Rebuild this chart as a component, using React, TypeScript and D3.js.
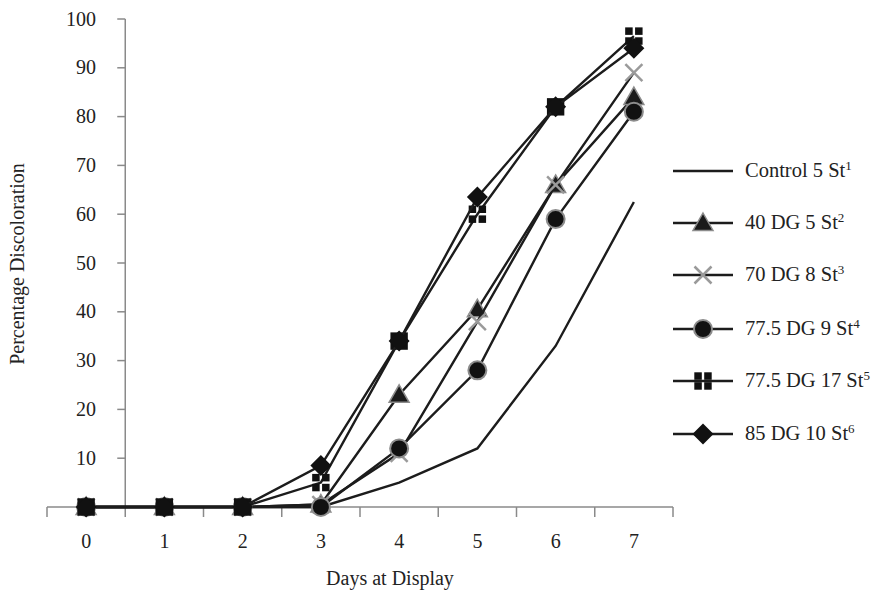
import React from "react";
import * as d3 from "d3";

const days = [0, 1, 2, 3, 4, 5, 6, 7];
const yTicks = [10, 20, 30, 40, 50, 60, 70, 80, 90, 100];

const control5 = [0, 0, 0, 0, 5, 12, 33, 62.5];
const dg40 = [0, 0, 0, 0.5, 23, 40.5, 66, 84];
const dg70 = [0, 0, 0, 0.5, 11, 38, 66, 89];
const dg775s9 = [0, 0, 0, 0, 12, 28, 59, 81];
const dg775s17 = [0, 0, 0, 5, 34, 60, 82, 96.5];
const dg85 = [0, 0, 0, 8.5, 34, 63.5, 82, 94];

type Kind = "none" | "triangle" | "x" | "circle" | "square" | "diamond";
const seriesNames = ["Control 5 St", "40 DG 5 St", "70 DG 8 St", "77.5 DG 9 St", "77.5 DG 17 St", "85 DG 10 St"];
const seriesSup = ["1", "2", "3", "4", "5", "6"];
const seriesValues = [control5, dg40, dg70, dg775s9, dg775s17, dg85];
const seriesKinds: Kind[] = ["none", "triangle", "x", "circle", "square", "diamond"];

const W = 871;
const H = 593;
const FONT = "'Liberation Serif', 'DejaVu Serif', serif";
const LINE = "#1c1c1c";
const AXIS = "#8a8a8a";

function Marker({ kind, cx, cy }: { kind: Kind; cx: number; cy: number }) {
  if (kind === "triangle") {
    const s = 10;
    return (
      <path
        d={`M${cx},${cy - s} L${cx + s},${cy + s * 0.75} L${cx - s},${cy + s * 0.75} Z`}
        fill="#1a1a1a"
        stroke="#8c8c8c"
        strokeWidth={1.5}
      />
    );
  }
  if (kind === "x") {
    const s = 8.5;
    return (
      <g stroke="#9a9a9a" strokeWidth={2.5}>
        <line x1={cx - s} y1={cy - s} x2={cx + s} y2={cy + s} />
        <line x1={cx - s} y1={cy + s} x2={cx + s} y2={cy - s} />
      </g>
    );
  }
  if (kind === "circle") {
    return <circle cx={cx} cy={cy} r={9} fill="#111" stroke="#8c8c8c" strokeWidth={2} />;
  }
  if (kind === "square") {
    const q = 7.5;
    const g = 1.2;
    return (
      <g fill="#111">
        <rect x={cx - q - g} y={cy - q - g} width={q} height={q} />
        <rect x={cx + g} y={cy - q - g} width={q} height={q} />
        <rect x={cx - q - g} y={cy + g} width={q} height={q} />
        <rect x={cx + g} y={cy + g} width={q} height={q} />
      </g>
    );
  }
  if (kind === "diamond") {
    const s = 10.5;
    return <path d={`M${cx},${cy - s} L${cx + s},${cy} L${cx},${cy + s} L${cx - s},${cy} Z`} fill="#111" />;
  }
  return null;
}

export default function App() {
  const x = d3.scaleBand<number>().domain(days).range([47, 673]).padding(0);
  const cx = (d: number) => (x(d) as number) + x.bandwidth() / 2;
  const y = d3.scaleLinear().domain([0, 100]).range([507, 19]);
  const yAxisX = x(1) as number;

  const line = d3
    .line<number>()
    .x((_, i) => cx(days[i]))
    .y((v) => y(v));

  const boundaries = days.map((d) => x(d) as number).concat([673]);

  const legendY = [171, 223, 275, 329, 381, 434];

  return (
    <svg width={W} height={H} style={{ position: "absolute", left: 0, top: 0, background: "#fff" }} fontFamily={FONT}>
      {/* x axis */}
      <line x1={47} x2={673} y1={y(0)} y2={y(0)} stroke={AXIS} strokeWidth={1.5} />
      {boundaries.map((b, i) => (
        <line key={"xt" + i} x1={b} x2={b} y1={y(0)} y2={y(0) + 10} stroke={AXIS} strokeWidth={1.5} />
      ))}
      {days.map((d) => (
        <text key={"xl" + d} x={cx(d)} y={548} textAnchor="middle" fontSize={20} fill="#222">
          {d}
        </text>
      ))}
      {/* y axis */}
      <line x1={yAxisX} x2={yAxisX} y1={y(100)} y2={y(0)} stroke={AXIS} strokeWidth={1.5} />
      {yTicks.map((t) => (
        <g key={"yt" + t}>
          <line x1={yAxisX - 8} x2={yAxisX} y1={y(t)} y2={y(t)} stroke={AXIS} strokeWidth={1.5} />
          <text x={96} y={y(t) + 6.5} textAnchor="end" fontSize={20} fill="#222">
            {t}
          </text>
        </g>
      ))}
      <text x={390} y={585} textAnchor="middle" fontSize={20} fill="#222">
        Days at Display
      </text>
      <text transform={`translate(24,264) rotate(-90)`} textAnchor="middle" fontSize={20} fill="#222">
        Percentage Discoloration
      </text>

      {/* series */}
      {seriesValues.map((vals, si) => (
        <g key={"s" + si}>
          <path d={line(vals) || ""} fill="none" stroke={LINE} strokeWidth={2.4} />
          {vals.map((v, i) => (
            <Marker key={i} kind={seriesKinds[si]} cx={cx(days[i])} cy={y(v)} />
          ))}
        </g>
      ))}

      {/* legend */}
      {seriesNames.map((name, i) => (
        <g key={"lg" + i}>
          <line x1={673} x2={733} y1={legendY[i]} y2={legendY[i]} stroke={LINE} strokeWidth={2.4} />
          <Marker kind={seriesKinds[i]} cx={703} cy={legendY[i]} />
          <text x={745} y={legendY[i] + 6} fontSize={20.5} fill="#222">
            {name}
            <tspan dy={-7} fontSize={13}>
              {seriesSup[i]}
            </tspan>
          </text>
        </g>
      ))}
    </svg>
  );
}
